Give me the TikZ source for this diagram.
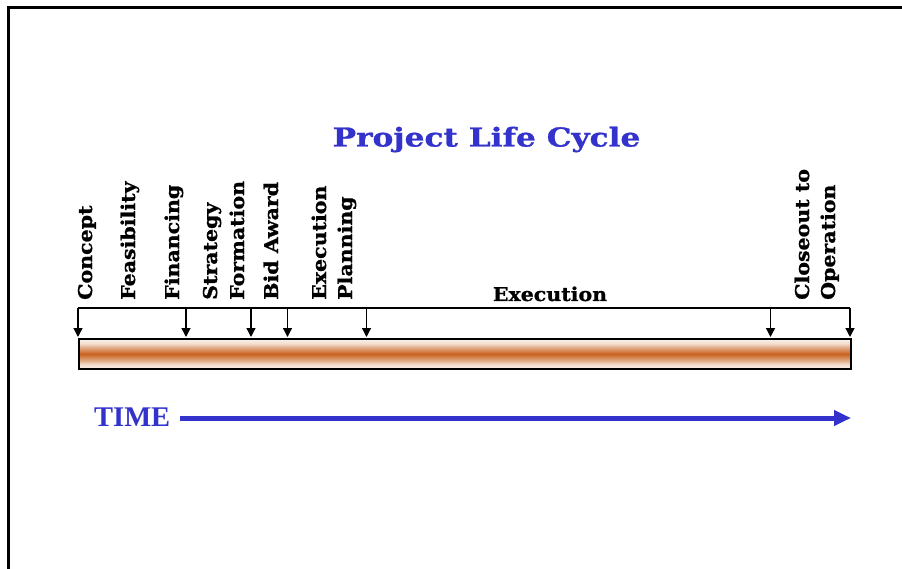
\documentclass[tikz,border=0pt]{standalone}
\usepackage{fontspec}
\usetikzlibrary{arrows.meta}
\newfontfamily\slabfont{DejaVu Serif}[FakeStretch=1.08, FakeBold=1]
\newfontfamily\headfont{DejaVu Serif}[FakeStretch=1.2, FakeBold=1]
\newfontfamily\timefont{Liberation Serif}
\definecolor{titleblue}{RGB}{51,51,204}
\definecolor{rust}{RGB}{200,98,30}
% orange band fading towards white at the top and bottom of the time bar
% (TikZ fits the central 25bp--75bp part of a shading to the path)
\pgfdeclareverticalshading{barshade}{100bp}{%
  color(0bp)=(rust!8); color(25bp)=(rust!8); color(32.5bp)=(rust!22);
  color(41bp)=(rust!62); color(50bp)=(rust); color(59bp)=(rust!62);
  color(67.5bp)=(rust!22); color(75bp)=(rust!8); color(100bp)=(rust!8)}
\tikzset{
  labelfont/.style={font=\slabfont\bfseries\fontsize{19}{22}\selectfont},
  phase/.style={labelfont, rotate=90, anchor=base west, inner sep=0pt},
  milestone/.style={line width=1.3pt, -{Triangle[length=9pt,width=9pt]}},
}
\begin{document}
\begin{tikzpicture}[x=1pt,y=-1pt]
\useasboundingbox (0,0) rectangle (902,569);
\fill[white] (0,0) rectangle (902,569);
% page frame
\draw[line width=3pt, line join=miter] (8,569) -- (8,7.5) -- (902,7.5);

% title
\node[font=\headfont\bfseries\fontsize{26}{30}\selectfont, text=titleblue,
      inner sep=0pt, anchor=base] (title) at (486.5,146.5) {Project Life Cycle};

% time bar
\node[draw, line width=2pt, shading=barshade, minimum width=772pt,
      minimum height=30pt, inner sep=0pt, anchor=north west] (bar) at (78,338) {};

% milestone line and markers
\foreach \i/\x in {1/78, 2/186, 3/251, 4/287.5, 5/366.5, 6/770.5, 7/850} {
  \coordinate (m\i) at (\x,308);
  \coordinate (b\i) at (\x,337);
}
\draw[line width=1pt] (m1) -- (m7);
\foreach \i in {1,...,7} \draw[milestone] (m\i) -- (b\i);

% phase names
\node[phase] (concept)     at (92,300)  {Concept};
\node[phase] (feasibility) at (135,300) {Feasibility};
\node[phase] (financing)   at (179,300) {Financing};
\node[phase] (strategy)    at (217,300) {Strategy};
\node[phase] (formation)   at (244,300) {Formation};
\node[phase] (bidaward)    at (278,300) {Bid Award};
\node[phase] (execplan)    at (326,300) {Execution};
\node[phase] (planning)    at (352,300) {Planning};
\node[phase] (closeout)    at (809,300) {Closeout to};
\node[phase] (operation)   at (835,300) {Operation};
\node[labelfont, inner sep=0pt, anchor=base] (execution) at (550,301) {Execution};

% time arrow
\node[font=\timefont\bfseries\fontsize{28.5}{30}\selectfont, text=titleblue,
      inner sep=0pt, anchor=base west] (time) at (94,426) {TIME};
\coordinate (tend) at (851,418);
\draw[titleblue, line width=5pt, -{Triangle[length=17pt,width=15pt]}]
  ([xshift=10pt]time.east |- tend) -- (tend);
\end{tikzpicture}
\end{document}
